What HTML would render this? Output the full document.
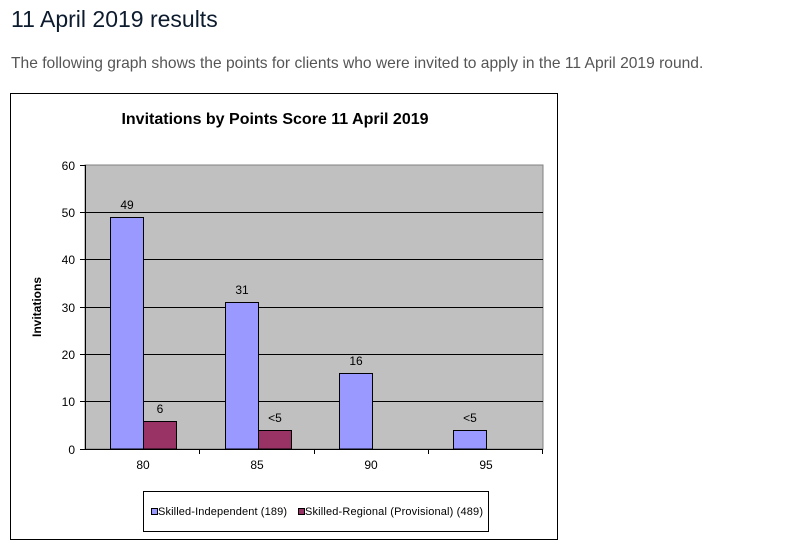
<!DOCTYPE html>
<html><head><style>
body{margin:0;background:#fff;width:790px;height:557px;overflow:hidden;font-family:"Liberation Sans",sans-serif}
h1{position:absolute;left:11px;top:6px;margin:0;font-size:23px;font-weight:normal;color:#0d1b2e}
p{position:absolute;left:11px;top:55px;margin:0;font-size:15.6px;color:#555}
</style></head><body>
<h1>11 April 2019 results</h1>
<p>The following graph shows the points for clients who were invited to apply in the 11 April 2019 round.</p>
<svg width="790" height="557" style="position:absolute;left:0;top:0" font-family="Liberation Sans, sans-serif">
<rect x="10.5" y="93.5" width="547" height="446" fill="#fff" stroke="#000"/>
<text x="275" y="124" text-anchor="middle" font-size="16" font-weight="bold">Invitations by Points Score 11 April 2019</text>
<rect x="85" y="165" width="458" height="284" fill="#c0c0c0" stroke="#808080"/>
<g stroke="#000" stroke-width="1">
<line x1="85" y1="212.5" x2="543" y2="212.5"/><line x1="85" y1="259.5" x2="543" y2="259.5"/>
<line x1="85" y1="307.5" x2="543" y2="307.5"/><line x1="85" y1="354.5" x2="543" y2="354.5"/>
<line x1="85" y1="401.5" x2="543" y2="401.5"/>
</g>
<g stroke="#000" fill="#9999ff">
<rect x="110.5" y="217.5" width="33" height="231.5"/>
<rect x="225.5" y="302.5" width="33" height="146.5"/>
<rect x="339.5" y="373.5" width="33" height="75.5"/>
<rect x="453.5" y="430.5" width="33" height="18.5"/>
</g>
<g stroke="#000" fill="#993366">
<rect x="143.5" y="421.5" width="33" height="27.5"/>
<rect x="258.5" y="430.5" width="33" height="18.5"/>
</g>
<g stroke="#000">
<line x1="85.5" y1="165" x2="85.5" y2="449"/>
<line x1="85" y1="449.5" x2="543" y2="449.5"/>
<line x1="80" y1="165.5" x2="85" y2="165.5"/><line x1="80" y1="212.5" x2="85" y2="212.5"/>
<line x1="80" y1="259.5" x2="85" y2="259.5"/><line x1="80" y1="307.5" x2="85" y2="307.5"/>
<line x1="80" y1="354.5" x2="85" y2="354.5"/><line x1="80" y1="401.5" x2="85" y2="401.5"/>
<line x1="80" y1="449.5" x2="85" y2="449.5"/>
<line x1="199.5" y1="449" x2="199.5" y2="454"/><line x1="314.5" y1="449" x2="314.5" y2="454"/>
<line x1="428.5" y1="449" x2="428.5" y2="454"/><line x1="542.5" y1="449" x2="542.5" y2="454"/>
</g>
<g font-size="12" text-anchor="end">
<text x="75" y="170">60</text><text x="75" y="217">50</text><text x="75" y="264">40</text>
<text x="75" y="312">30</text><text x="75" y="359">20</text><text x="75" y="406">10</text><text x="75" y="454">0</text>
</g>
<g font-size="12" text-anchor="middle">
<text x="143" y="469">80</text><text x="257" y="469">85</text><text x="371" y="469">90</text><text x="486" y="469">95</text>
<text x="127" y="209">49</text><text x="242" y="294">31</text><text x="356" y="365">16</text><text x="470" y="422">&lt;5</text>
<text x="160" y="413">6</text><text x="275" y="422">&lt;5</text>
</g>
<text transform="translate(41,307) rotate(-90)" text-anchor="middle" font-size="12" font-weight="bold">Invitations</text>
<rect x="143.5" y="491.5" width="345" height="40" fill="#fff" stroke="#000"/>
<rect x="151.5" y="508.5" width="6" height="6" fill="#9999ff" stroke="#000"/>
<text x="158" y="515" font-size="11" textLength="129">Skilled-Independent (189)</text>
<rect x="298.5" y="508.5" width="6" height="6" fill="#993366" stroke="#000"/>
<text x="305" y="515" font-size="11" textLength="178">Skilled-Regional (Provisional) (489)</text>
</svg>
</body></html>
